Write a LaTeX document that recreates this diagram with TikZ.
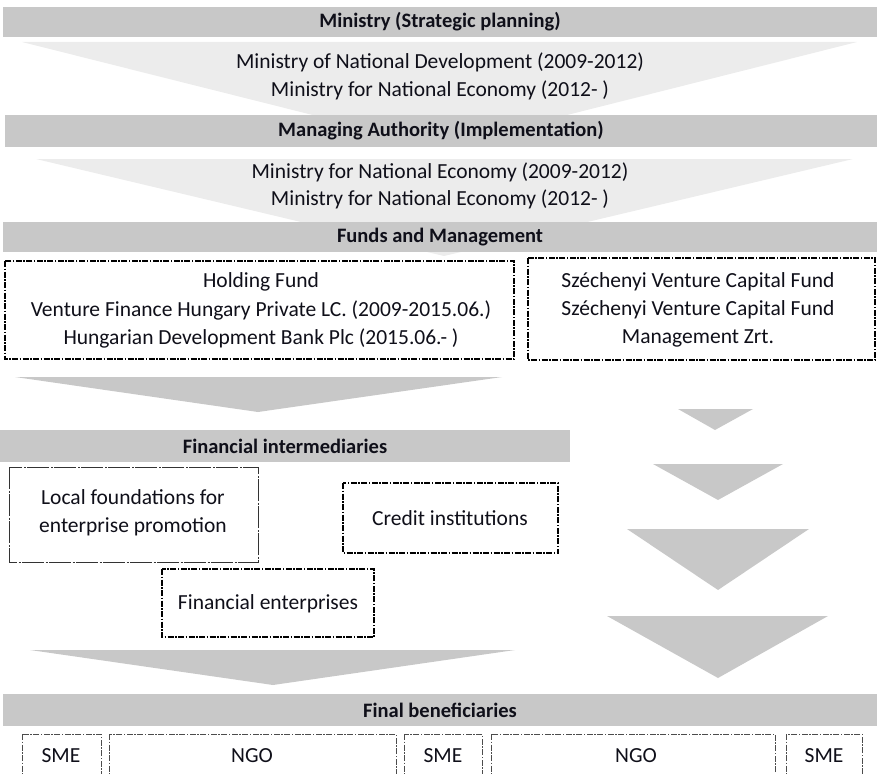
\documentclass[tikz,border=0pt]{standalone}
\usepackage{fontspec}
\setmainfont{Carlito}
\definecolor{barg}{RGB}{200,200,200}
\definecolor{lightg}{RGB}{236,236,236}
\definecolor{txt}{RGB}{15,15,25}
\begin{document}
\begin{tikzpicture}[x=1pt,y=-1pt,
  every node/.style={text=txt,font=\fontsize{21.5}{25}\selectfont},
  bar/.style={fill=barg,draw=none,inner sep=0pt,font=\fontsize{20.5}{24}\selectfont\bfseries},
  ddbox/.style={draw=black,line width=1.3pt,fill=white,dash pattern=on 6pt off 1.5pt on 1.5pt off 1.5pt},
  lfbox/.style={draw=black!80,line width=0.9pt,fill=white,dash pattern=on 22pt off 1.5pt on 2pt off 1.5pt},
  benbox/.style={draw=black!70,line width=0.8pt,dash pattern=on 6pt off 1.5pt on 1.5pt off 1.5pt},
  txtnode/.style={inner sep=0pt,align=center},
  light/.style={fill=lightg},
  mid/.style={fill=barg}
]
\clip (0,0) rectangle (877,773);
\useasboundingbox (0,0) rectangle (877,773);
% light triangles
\fill[light] (22,42) -- (857,42) -- (440,147) -- cycle;
\fill[light] (36,159) -- (853,159) -- (444,256) -- cycle;
% bars
\node[bar,minimum width=874pt,minimum height=30pt] (bar1) at (440,22) {Ministry (Strategic planning)};
\node[bar,minimum width=872pt,minimum height=32pt] (bar2) at (441,131) {Managing Authority (Implementation)};
\node[bar,minimum width=874pt,minimum height=30pt] (bar3) at (440,237) {Funds and Management};
\node[bar,minimum width=570pt,minimum height=32pt] (bar4) at (285,446) {Financial intermediaries};
\node[bar,minimum width=874pt,minimum height=32pt] (bar5) at (440,710) {Final beneficiaries};
% texts in light triangles
\node[txtnode] (m1) at (440,62) {Ministry of National Development (2009-2012)};
\node[txtnode] (m2) at (440,90) {Ministry for National Economy (2012- )};
\node[txtnode] (m3) at (440,172) {Ministry for National Economy (2009-2012)};
\node[txtnode] (m4) at (440,199) {Ministry for National Economy (2012- )};
% fund boxes
\draw[ddbox] (5,261) rectangle (514,359);
\node[txtnode] (hold1) at (261,282) {Holding Fund};
\node[txtnode] (hold2) at (261,310) {Venture Finance Hungary Private LC. (2009-2015.06.)};
\node[txtnode] (hold3) at (261,338) {Hungarian Development Bank Plc (2015.06.- )};
\draw[ddbox] (528,258) rectangle (875,360);
\node[txtnode] (sz1) at (698,282) {Széchenyi Venture Capital Fund};
\node[txtnode] (sz2) at (698,310) {Széchenyi Venture Capital Fund};
\node[txtnode] (sz3) at (698,338) {Management Zrt.};
% medium triangles
\fill[mid] (15,377) -- (502,377) -- (258,412) -- cycle;
\fill[mid] (678,409) -- (753,409) -- (715,430) -- cycle;
\fill[mid] (653,464) -- (783,464) -- (718,500) -- cycle;
\fill[mid] (627,529) -- (809,529) -- (718,590) -- cycle;
\fill[mid] (607,616) -- (828,616) -- (718,678) -- cycle;
\fill[mid] (30,650) -- (515,650) -- (273,685) -- cycle;
% intermediaries
\draw[lfbox] (9,467) rectangle (258,562);
\node[txtnode] (lf1) at (133,497) {Local foundations for};
\node[txtnode] (lf2) at (133,527) {enterprise promotion};
\draw[ddbox] (343,483) rectangle (558,553);
\node[txtnode] (ci) at (450,518) {Credit institutions};
\draw[ddbox] (162,569) rectangle (374,637);
\node[txtnode] (fe) at (268,604) {Financial enterprises};
% beneficiaries
\draw[benbox] (22,734) rectangle (101,800);
\draw[benbox] (109,734) rectangle (396,800);
\draw[benbox] (404,734) rectangle (482,800);
\draw[benbox] (491,734) rectangle (775,800);
\draw[benbox] (786,734) rectangle (862,800);
\node[txtnode] (sme1) at (61,756) {SME};
\node[txtnode] (ngo1) at (252,756) {NGO};
\node[txtnode] (sme2) at (443,756) {SME};
\node[txtnode] (ngo2) at (636,756) {NGO};
\node[txtnode] (sme3) at (824,756) {SME};
\end{tikzpicture}
\end{document}
